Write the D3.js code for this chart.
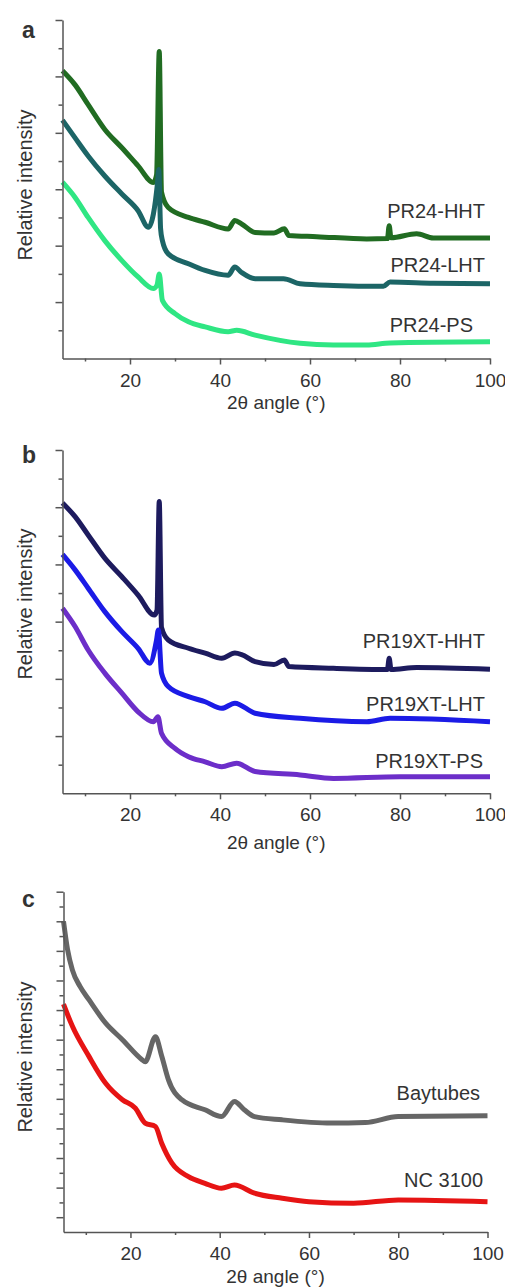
<!DOCTYPE html>
<html>
<head>
<meta charset="utf-8">
<script src="https://cdn.jsdelivr.net/npm/d3@7"></script>
<style>
  body { margin: 0; background: #fff; }
  text { font-family: "Liberation Sans", Arial, sans-serif; fill: #333; }
</style>
</head>
<body>
<script>
// 2theta (deg), relative intensity (arbitrary, stacked)
var hhtA = [[5,10.2],[7.8,9.7],[10.7,9.0],[14.4,8.12],[18.2,7.47],[21.8,6.83],[25.2,6.24],[25.9,6.5],
  [26.5,10.88],[27.0,5.9],[28.5,5.35],[33,5.0],[36.7,4.83],[41.8,4.59],[43.3,4.89],[44.8,4.77],
  [47.8,4.47],[52,4.45],[54.3,4.6],[55.3,4.36],[61.5,4.32],[72.6,4.24],[77.2,4.25],[77.6,4.71],
  [78.0,4.28],[83.7,4.42],[87.4,4.27],[100,4.27]];
var lhtA = [[5,8.45],[7.8,7.82],[10.7,7.18],[14.4,6.47],[18.2,5.83],[21.8,5.24],[24.1,4.65],[25.2,5.12],
  [26.1,6.2],[26.4,6.7],[26.8,4.6],[27.2,4.18],[28.5,3.71],[33,3.36],[36.7,3.12],[41.8,2.95],
  [43.3,3.24],[44.8,3.05],[47.8,2.83],[54.1,2.83],[57.8,2.65],[65.2,2.59],[76.3,2.56],[77.8,2.71],
  [87.4,2.67],[100,2.65]];
var psA = [[5,6.25],[7.8,5.71],[10.7,5.0],[14.4,4.18],[18.2,3.47],[21.8,2.89],[25.2,2.48],[26.0,2.6],
  [26.5,3.0],[27.2,2.06],[30,1.59],[33,1.3],[36.7,1.12],[41.8,0.95],[43.7,1.0],[47.8,0.83],
  [57.8,0.54],[65.2,0.48],[72.6,0.48],[77.8,0.55],[100,0.59]];

var hhtB = [[5,10.15],[7.8,9.67],[10.7,9.03],[14.4,8.22],[18.2,7.57],[21.8,6.93],[25.4,6.23],[26.0,6.4],
  [26.5,10.2],[27.0,5.8],[28.5,5.36],[33,5.07],[36.7,4.9],[40.4,4.72],[43.3,4.9],[44.8,4.85],
  [47.8,4.6],[52,4.5],[54.3,4.66],[55.3,4.43],[65.2,4.37],[77.2,4.33],[77.6,4.72],[78.0,4.33],
  [83.7,4.4],[100,4.34]];
var lhtB = [[5,8.35],[7.8,7.81],[10.7,7.17],[14.4,6.35],[18.2,5.65],[21.8,5.07],[24.4,4.55],[25.9,5.36],
  [26.3,5.71],[27.0,4.2],[28.5,3.73],[33,3.38],[36.7,3.2],[40.4,2.97],[43.3,3.15],[47.8,2.8],
  [57.8,2.62],[72.6,2.5],[77.8,2.62],[100,2.5]];
var psB = [[5,6.47],[7.8,5.83],[10.7,5.01],[14.4,4.2],[18.2,3.5],[21.8,2.85],[25.2,2.5],[26.2,2.68],
  [27.0,2.1],[30,1.57],[33,1.28],[36.7,1.1],[40.4,0.93],[43.7,1.05],[47.8,0.76],[57.8,0.64],
  [65.2,0.52],[80,0.58],[100,0.58]];

var bayC = [[5,21.0],[5.9,19.1],[7.0,17.7],[8.7,16.6],[10.7,15.7],[14.4,14.13],[18.2,13.0],[22.6,11.65],
  [23.3,11.5],[25.6,13.2],[27,11.9],[28.5,10.3],[31.5,8.94],[36.7,8.26],[40.4,7.8],[43.3,8.82],
  [45.5,8.26],[47.8,7.8],[54,7.58],[65,7.36],[72.6,7.4],[80,7.8],[100,7.85]];
var ncC = [[5,15.4],[7.0,13.9],[10.7,11.87],[14.4,10.07],[18.2,8.94],[21.1,8.37],[23.3,7.36],[25.6,7.13],
  [27,6.0],[29.3,4.65],[33,3.74],[36.7,3.29],[40.4,2.96],[43.3,3.18],[47.8,2.62],[54,2.28],
  [60,2.05],[70,1.94],[80,2.17],[100,2.05]];

var xTicks = [10, 20, 30, 40, 50, 60, 70, 80, 90, 100];
var xDomain = [5, 100];

var panels = [
  { letter: "a", top: 20, bottom: 358.5, x0: 62.5, x1: 490, yMax: 12, yLabelY: 185, xLabelDy: 50, letterY: 38,
    series: [
      { name: "PR24-HHT", data: hhtA, color: "#216c22", lx: 485, ly: 218 },
      { name: "PR24-LHT", data: lhtA, color: "#1c6566", lx: 485, ly: 272 },
      { name: "PR24-PS",  data: psA,  color: "#2fe683", lx: 473, ly: 332 }
    ] },
  { letter: "b", top: 450, bottom: 793.3, x0: 62.5, x1: 490, yMax: 12, yLabelY: 604, xLabelDy: 56, letterY: 463,
    series: [
      { name: "PR19XT-HHT", data: hhtB, color: "#1d1b5e", lx: 485, ly: 648 },
      { name: "PR19XT-LHT", data: lhtB, color: "#1b1be6", lx: 485, ly: 711 },
      { name: "PR19XT-PS",  data: psB,  color: "#6c2ec9", lx: 483, ly: 768 }
    ] },
  { letter: "c", top: 891.7, bottom: 1232, x0: 63.5, x1: 487.5, yMax: 23, yLabelY: 1057, xLabelDy: 51, letterY: 907,
    series: [
      { name: "Baytubes", data: bayC, color: "#666666", lx: 480, ly: 1100 },
      { name: "NC 3100",  data: ncC,  color: "#e61414", lx: 483, ly: 1187 }
    ] }
];

var svg = d3.select("body").append("svg")
  .attr("width", 505)
  .attr("height", 1288);

panels.forEach(function(p) {
  var x = d3.scaleLinear().domain(xDomain).range([p.x0, p.x1]);
  var y = d3.scaleLinear().domain([0, p.yMax]).range([p.bottom, p.top]);
  var g = svg.append("g");

  var line = d3.line()
    .x(function(d) { return x(d[0]); })
    .y(function(d) { return y(d[1]); })
    .curve(d3.curveMonotoneX);

  p.series.forEach(function(s) {
    g.append("path")
      .attr("d", line(s.data))
      .attr("fill", "none")
      .attr("stroke", s.color)
      .attr("stroke-width", 5)
      .attr("stroke-linejoin", "round");

    g.append("text")
      .text(s.name)
      .attr("x", s.lx)
      .attr("y", s.ly)
      .attr("text-anchor", "end")
      .style("font-size", "20px");
  });

  // x axis
  var xAxis = g.append("g")
    .attr("transform", "translate(0," + p.bottom + ")")
    .call(d3.axisBottom(x)
      .tickValues(xTicks)
      .tickSize(6)
      .tickSizeOuter(0)
      .tickFormat(function(d) { return d % 20 === 0 ? d : ""; }));
  xAxis.selectAll(".tick line")
    .attr("y2", function(d) { return d % 20 === 0 ? 6 : 3; });
  xAxis.selectAll(".tick text")
    .attr("y", 28).attr("dy", 0)
    .style("font-size", "19px")
    .style("font-family", "'Liberation Sans', Arial, sans-serif")
    .attr("fill", "#333");

  // y axis, no labels
  var yAxis = g.append("g")
    .attr("transform", "translate(" + p.x0 + ",0)")
    .call(d3.axisLeft(y)
      .tickValues(d3.range(1, p.yMax + 1))
      .tickSize(7)
      .tickSizeOuter(0)
      .tickFormat(""));
  yAxis.selectAll(".tick line")
    .attr("x2", function(d) { return (p.yMax - d) % 2 === 0 ? -7 : -4; });

  g.selectAll(".domain, .tick line")
    .attr("stroke", "#555")
    .attr("stroke-width", 1.5);

  g.append("text")
    .text("Relative intensity")
    .attr("transform", "translate(32," + p.yLabelY + ") rotate(-90)")
    .attr("text-anchor", "middle")
    .style("font-size", "20px");

  g.append("text")
    .text("2\u03b8 angle (\u00b0)")
    .attr("x", (p.x0 + p.x1) / 2)
    .attr("y", p.bottom + p.xLabelDy)
    .attr("text-anchor", "middle")
    .style("font-size", "19px");

  g.append("text")
    .text(p.letter)
    .attr("x", 22)
    .attr("y", p.letterY)
    .style("font-size", "23px")
    .style("font-weight", "bold")
    .attr("fill", "#222");
});
</script>
</body>
</html>
